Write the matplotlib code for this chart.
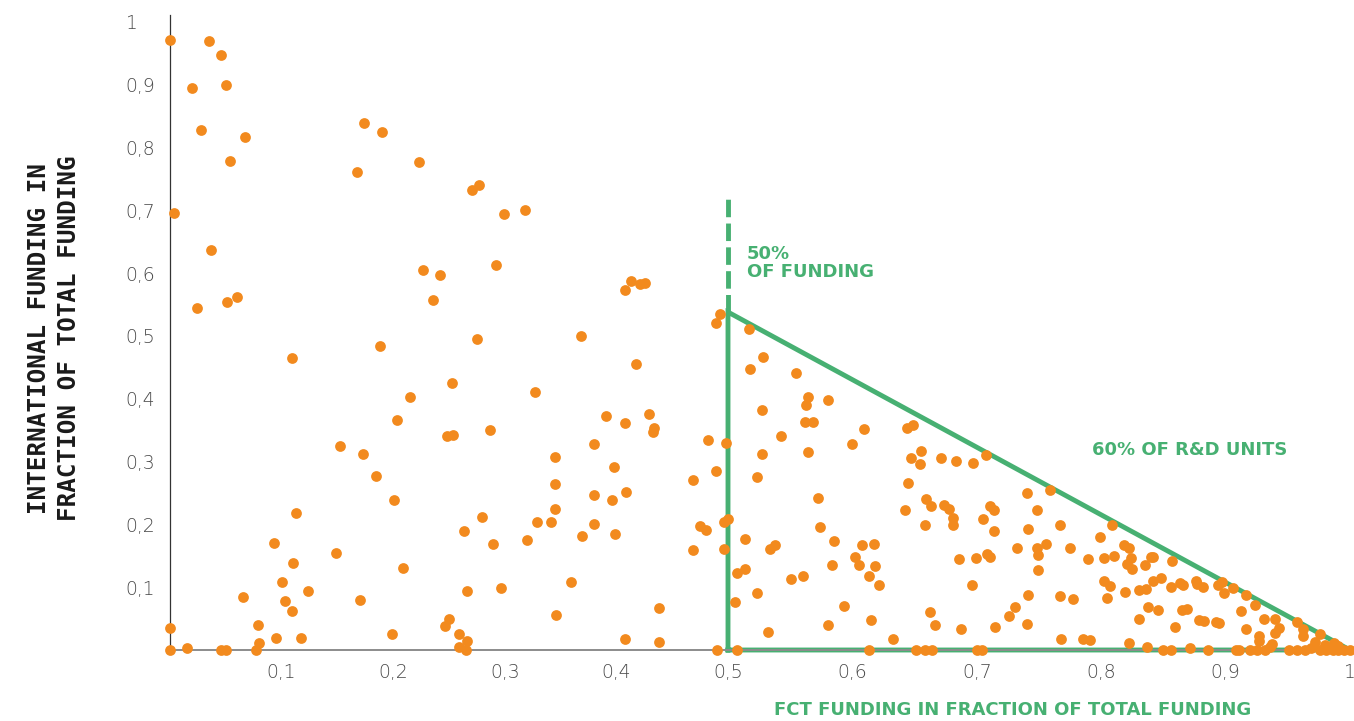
import numpy as np
import matplotlib
matplotlib.use("Agg")
import matplotlib.pyplot as plt

# share of FCT funding (x) and international funding (y) per R&D unit
fct_share = [
    0.000, 0.004, 0.020, 0.028, 0.035, 0.046, 0.050, 0.037, 0.024, 0.051,
    0.060, 0.054, 0.067, 0.109, 0.065, 0.079, 0.080, 0.000, 0.000, 0.015,
    0.046, 0.050, 0.077, 0.093, 0.100, 0.103, 0.110, 0.113, 0.109, 0.095,
    0.117, 0.124, 0.152, 0.149, 0.168, 0.174, 0.190, 0.173, 0.170, 0.188,
    0.185, 0.199, 0.203, 0.201, 0.209, 0.215, 0.223, 0.227, 0.236, 0.242,
    0.292, 0.275, 0.253, 0.248, 0.254, 0.287, 0.280, 0.263, 0.289, 0.266,
    0.297, 0.250, 0.246, 0.259, 0.266, 0.259, 0.265, 0.327, 0.345, 0.345,
    0.345, 0.329, 0.341, 0.320, 0.368, 0.369, 0.359, 0.346, 0.380, 0.380,
    0.380, 0.391, 0.398, 0.396, 0.399, 0.409, 0.408, 0.408, 0.413, 0.421,
    0.426, 0.418, 0.429, 0.434, 0.433, 0.438, 0.438, 0.408, 0.482, 0.498,
    0.489, 0.469, 0.475, 0.480, 0.496, 0.500, 0.469, 0.496, 0.493, 0.489,
    0.490, 0.271, 0.277, 0.299, 0.318,
    0.507, 0.507, 0.506, 0.517, 0.528, 0.518, 0.555, 0.564, 0.563, 0.580,
    0.527, 0.562, 0.568, 0.609, 0.543, 0.600, 0.527, 0.564, 0.644, 0.649,
    0.647, 0.655, 0.654, 0.671, 0.683, 0.697, 0.707, 0.523, 0.645, 0.572,
    0.659, 0.663, 0.642, 0.674, 0.678, 0.681, 0.681, 0.658, 0.711, 0.714,
    0.705, 0.714, 0.574, 0.514, 0.534, 0.538, 0.585, 0.608, 0.617, 0.602,
    0.605, 0.618, 0.584, 0.613, 0.621, 0.514, 0.551, 0.560, 0.523, 0.686,
    0.699, 0.708, 0.711, 0.732, 0.696, 0.593, 0.662, 0.615, 0.580, 0.666,
    0.687, 0.715, 0.726, 0.731, 0.532, 0.633, 0.613, 0.651, 0.658, 0.664,
    0.700, 0.704, 0.740, 0.759, 0.748, 0.741, 0.767, 0.748, 0.749, 0.756,
    0.749, 0.775, 0.789, 0.799, 0.809, 0.802, 0.810, 0.818, 0.822, 0.824,
    0.821, 0.825, 0.835, 0.840, 0.842, 0.857, 0.741, 0.767, 0.777, 0.740,
    0.768, 0.785, 0.791, 0.802, 0.807, 0.805, 0.819, 0.830, 0.836, 0.842,
    0.848, 0.838, 0.846, 0.830, 0.822, 0.837, 0.850, 0.856, 0.871, 0.886,
    0.856, 0.863, 0.866, 0.876, 0.877, 0.882, 0.859, 0.865, 0.869, 0.879,
    0.883, 0.892, 0.895, 0.894, 0.897, 0.899, 0.906, 0.916, 0.912, 0.924,
    0.916, 0.931, 0.940, 0.943, 0.940, 0.927, 0.927, 0.937, 0.957, 0.962,
    0.962, 0.976, 0.972, 0.987, 0.908, 0.911, 0.920, 0.925, 0.932, 0.936,
    0.951, 0.957, 0.964, 0.969, 0.976, 0.981, 0.986, 0.990, 0.995, 1.000,
    0.990, 0.980,
]
intl_share = [
    0.971, 0.696, 0.895, 0.828, 0.970, 0.947, 0.900, 0.637, 0.545, 0.554,
    0.562, 0.779, 0.817, 0.465, 0.084, 0.040, 0.011, 0.035, 0.000, 0.003,
    0.000, 0.000, 0.000, 0.170, 0.108, 0.078, 0.139, 0.218, 0.062, 0.019,
    0.019, 0.094, 0.325, 0.154, 0.761, 0.839, 0.825, 0.312, 0.080, 0.484,
    0.277, 0.025, 0.366, 0.239, 0.131, 0.403, 0.777, 0.605, 0.557, 0.597,
    0.613, 0.495, 0.425, 0.341, 0.342, 0.350, 0.212, 0.189, 0.169, 0.094,
    0.099, 0.049, 0.038, 0.025, 0.014, 0.005, 0.000, 0.411, 0.307, 0.264,
    0.225, 0.204, 0.204, 0.175, 0.500, 0.182, 0.108, 0.056, 0.328, 0.247,
    0.201, 0.373, 0.291, 0.239, 0.185, 0.252, 0.361, 0.573, 0.588, 0.583,
    0.584, 0.455, 0.376, 0.354, 0.347, 0.067, 0.013, 0.018, 0.334, 0.330,
    0.285, 0.271, 0.197, 0.191, 0.204, 0.209, 0.159, 0.161, 0.535, 0.521,
    0.000, 0.732, 0.740, 0.694, 0.701,
    0.000, 0.123, 0.076, 0.511, 0.467, 0.447, 0.441, 0.403, 0.390, 0.398,
    0.382, 0.363, 0.363, 0.352, 0.341, 0.328, 0.312, 0.315, 0.354, 0.358,
    0.306, 0.317, 0.296, 0.306, 0.301, 0.298, 0.311, 0.275, 0.266, 0.242,
    0.240, 0.229, 0.223, 0.231, 0.225, 0.210, 0.199, 0.199, 0.229, 0.223,
    0.209, 0.189, 0.196, 0.177, 0.161, 0.167, 0.174, 0.167, 0.169, 0.148,
    0.135, 0.134, 0.135, 0.118, 0.104, 0.129, 0.113, 0.118, 0.091, 0.145,
    0.146, 0.153, 0.148, 0.162, 0.104, 0.070, 0.061, 0.048, 0.040, 0.040,
    0.033, 0.037, 0.054, 0.068, 0.029, 0.018, 0.000, 0.000, 0.000, 0.000,
    0.000, 0.000, 0.250, 0.255, 0.223, 0.193, 0.199, 0.162, 0.151, 0.169,
    0.127, 0.162, 0.145, 0.180, 0.199, 0.146, 0.150, 0.167, 0.162, 0.146,
    0.137, 0.129, 0.135, 0.148, 0.148, 0.142, 0.088, 0.086, 0.081, 0.041,
    0.018, 0.018, 0.016, 0.110, 0.102, 0.083, 0.092, 0.096, 0.097, 0.110,
    0.115, 0.068, 0.064, 0.049, 0.011, 0.005, 0.000, 0.000, 0.003, 0.000,
    0.100, 0.107, 0.104, 0.110, 0.105, 0.100, 0.037, 0.064, 0.065, 0.048,
    0.046, 0.045, 0.043, 0.104, 0.108, 0.091, 0.099, 0.088, 0.062, 0.072,
    0.033, 0.049, 0.049, 0.035, 0.027, 0.022, 0.014, 0.010, 0.045, 0.033,
    0.022, 0.025, 0.013, 0.011, 0.000, 0.000, 0.000, 0.000, 0.000, 0.005,
    0.000, 0.000, 0.000, 0.003, 0.000, 0.000, 0.000, 0.000, 0.000, 0.000,
    0.006, 0.008,
]

tick_values = [0.1, 0.2, 0.3, 0.4, 0.5, 0.6, 0.7, 0.8, 0.9, 1.0]
tick_labels = ["0,1", "0,2", "0,3", "0,4", "0,5", "0,6", "0,7", "0,8", "0,9", "1"]

# reference zone: 50% of funding, triangle holding 60% of R&D units
fct_threshold = 0.5
zone_top = 0.538
dash_top = 0.718

ORANGE = "#f28a1e"
GREEN = "#47b072"


# the x axis of the original is stretched a little on the right half
def fwd(x):
    x = np.asarray(x, dtype=float)
    return np.where(x <= 0.5, x * 1116.0, 558.0 + (x - 0.5) * 1244.0)


def inv(u):
    u = np.asarray(u, dtype=float)
    return np.where(u <= 558.0, u / 1116.0, 0.5 + (u - 558.0) / 1244.0)


fig = plt.figure(figsize=(13.54, 7.21), dpi=100)
ax = fig.add_axes([170 / 1354, 71 / 721, 1180 / 1354, 635 / 721])
ax.set_xscale("function", functions=(fwd, inv))
ax.set_xlim(0, 1.0)
ax.set_ylim(0, 1.011)

# zone lines
ax.plot([fct_threshold, fct_threshold, 1.0, fct_threshold],
        [0, zone_top, 0, 0], color=GREEN, lw=3.5, zorder=2,
        solid_joinstyle="miter", clip_on=False)
ax.plot([fct_threshold, fct_threshold], [zone_top, dash_top], color=GREEN,
        lw=3.5, dashes=(3.6, 1.3), zorder=2, clip_on=False)

ax.scatter(fct_share, intl_share, s=60, color=ORANGE, linewidths=0,
           zorder=3, clip_on=False)

for side in ["top", "right"]:
    ax.spines[side].set_visible(False)
ax.spines["left"].set_color("#333333")
ax.spines["left"].set_linewidth(0.9)
ax.spines["bottom"].set_color("#8c8c8c")
ax.spines["bottom"].set_linewidth(1.4)

ax.set_xticks(tick_values)
ax.set_xticklabels(tick_labels)
ax.set_yticks(tick_values)
ax.set_yticklabels(tick_labels)
ax.minorticks_off()
ax.tick_params(axis="x", length=0, pad=9, labelsize=13.5, labelcolor="#4a4a4a")
ax.tick_params(axis="y", length=0, pad=32, labelsize=13.5, labelcolor="#4a4a4a")
for lab in ax.get_xticklabels() + ax.get_yticklabels():
    lab.set_fontfamily("DejaVu Sans")
    lab.set_fontweight("light")
for lab in ax.get_yticklabels():
    lab.set_horizontalalignment("left")

ax.text(0.515, 0.645, "50%\nOF FUNDING", color=GREEN, fontsize=13,
        fontweight="bold", ha="left", va="top", linespacing=1.0)
ax.text(0.871, 0.318, "60% OF R&D UNITS", color=GREEN, fontsize=13,
        fontweight="bold", ha="center", va="center")

fig.text(1013 / 1354, 1 - 710 / 721, "FCT FUNDING IN FRACTION OF TOTAL FUNDING",
         color=GREEN, fontsize=13, fontweight="bold", ha="center", va="center")
fig.text(54 / 1354, 1 - 338 / 721,
         "INTERNATIONAL FUNDING IN\nFRACTION OF TOTAL FUNDING",
         family="DejaVu Sans Mono", fontweight="bold", fontsize=17.5,
         color="#1a1a1a", rotation=90, ha="center", va="center",
         multialignment="center", linespacing=1.35)

fig.savefig("out.png", dpi=100, facecolor="white")
